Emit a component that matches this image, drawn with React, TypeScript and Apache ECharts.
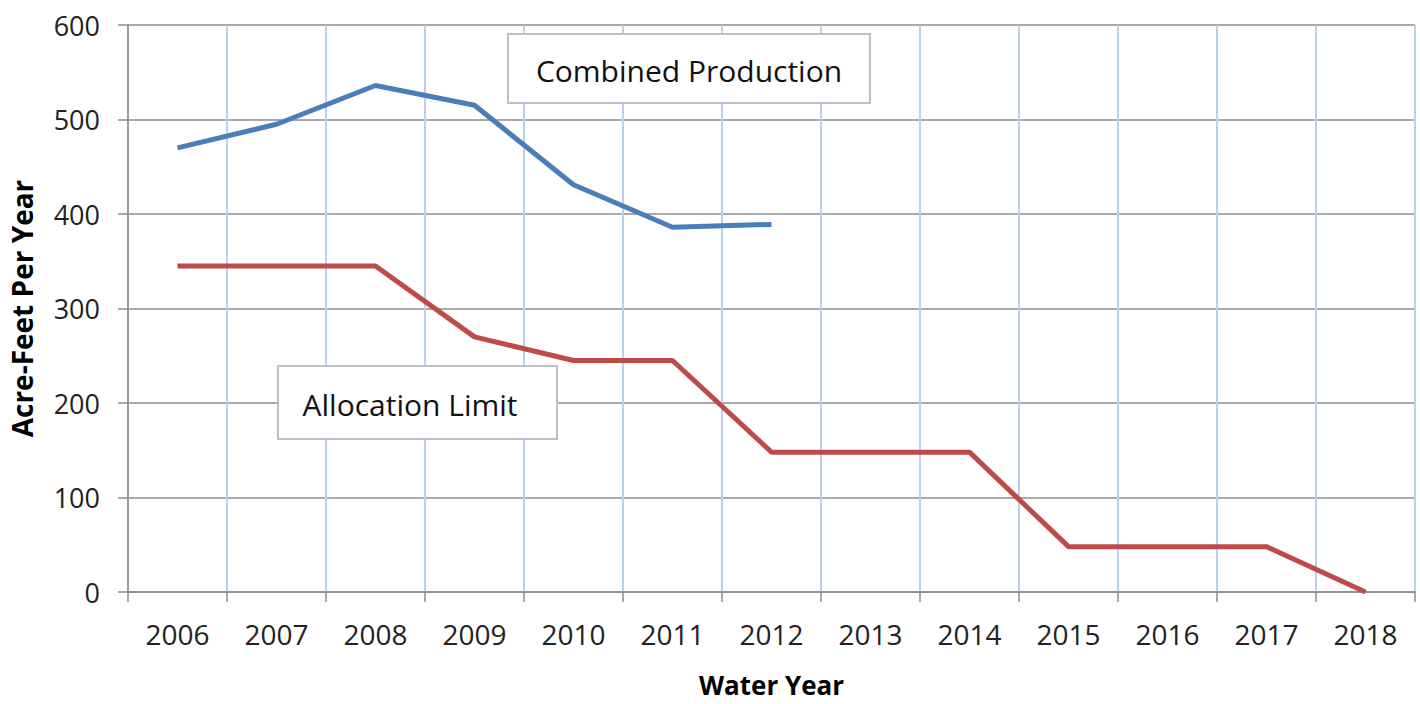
import React, { useEffect, useRef } from "react";
import * as echarts from "echarts";

const years = ["2006", "2007", "2008", "2009", "2010", "2011", "2012", "2013", "2014", "2015", "2016", "2017", "2018"];
const combinedProduction = [470, 495, 536, 515, 431, 386, 389, null, null, null, null, null, null];
const allocationLimit = [345, 345, 345, 270, 245, 245, 148, 148, 148, 48, 48, 48, 0];
const yTicks = { min: 0, max: 600, interval: 100 };

const FONT = "'Open Sans', 'Liberation Sans', sans-serif";

export default function App() {
  const ref = useRef<HTMLDivElement>(null);
  useEffect(() => {
    document.body.style.margin = "0";
    const chart = echarts.init(ref.current!, null, { renderer: "svg" });
    chart.setOption({
      animation: false,
      backgroundColor: "#ffffff",
      grid: { left: 128, right: 5, top: 25, bottom: 112, containLabel: false, outerBoundsMode: "none" },
      xAxis: {
        type: "category",
        data: years,
        boundaryGap: true,
        name: "Water Year",
        nameLocation: "middle",
        nameGap: 80,
        nameTextStyle: { fontFamily: FONT, fontSize: 26, lineHeight: 26, fontWeight: "bold", color: "#000" },
        axisLine: { lineStyle: { color: "#8c8c8c", width: 1.5 } },
        axisTick: { show: true, length: 10, lineStyle: { color: "#8c8c8c", width: 1.5 } },
        axisLabel: { fontFamily: FONT, fontSize: 28, color: "#222", margin: 28 },
        splitLine: { show: true, lineStyle: { color: "#bccff0", width: 2 } },
      },
      yAxis: {
        type: "value",
        min: yTicks.min,
        max: yTicks.max,
        interval: yTicks.interval,
        name: "Acre-Feet Per Year",
        nameLocation: "middle",
        nameGap: 92,
        nameTextStyle: { fontFamily: FONT, fontSize: 28, fontWeight: "bold", color: "#000" },
        axisLine: { show: true, lineStyle: { color: "#8c8c8c", width: 1.5 } },
        axisTick: { show: true, length: 10, lineStyle: { color: "#8c8c8c", width: 1.5 } },
        axisLabel: { fontFamily: FONT, fontSize: 27, color: "#222", margin: 28 },
        splitLine: { show: true, lineStyle: { color: "#8c8c8c", width: 1.5 } },
      },
      series: [
        {
          name: "Combined Production",
          type: "line",
          data: combinedProduction,
          symbol: "none",
          lineStyle: { color: "#4a7ebb", width: 5 },
          connectNulls: false,
          z: 3,
        },
        {
          name: "Allocation Limit",
          type: "line",
          data: allocationLimit,
          symbol: "none",
          lineStyle: { color: "#be4b48", width: 5 },
          z: 3,
        },
      ],
      graphic: [
        {
          type: "group",
          left: 507,
          top: 33,
          z: 100,
          children: [
            { type: "rect", z: 100, shape: { x: 0, y: 0, width: 362, height: 69 }, style: { fill: "#ffffff", stroke: "#bfbfbf", lineWidth: 2 } },
            { type: "text", z: 101, x: 181, y: 36, style: { text: "Combined Production", fontFamily: FONT, fontSize: 30, fill: "#111", align: "center", verticalAlign: "middle" } },
          ],
        },
        {
          type: "group",
          left: 277,
          top: 365,
          z: 100,
          children: [
            { type: "rect", z: 100, shape: { x: 0, y: 0, width: 279, height: 73 }, style: { fill: "#ffffff", stroke: "#bfbfbf", lineWidth: 2 } },
            { type: "text", z: 101, x: 132, y: 38, style: { text: "Allocation Limit", fontFamily: FONT, fontSize: 30, fill: "#111", align: "center", verticalAlign: "middle" } },
          ],
        },
      ],
    });
    return () => chart.dispose();
  }, []);
  return <div ref={ref} style={{ width: 1420, height: 704 }} />;
}
